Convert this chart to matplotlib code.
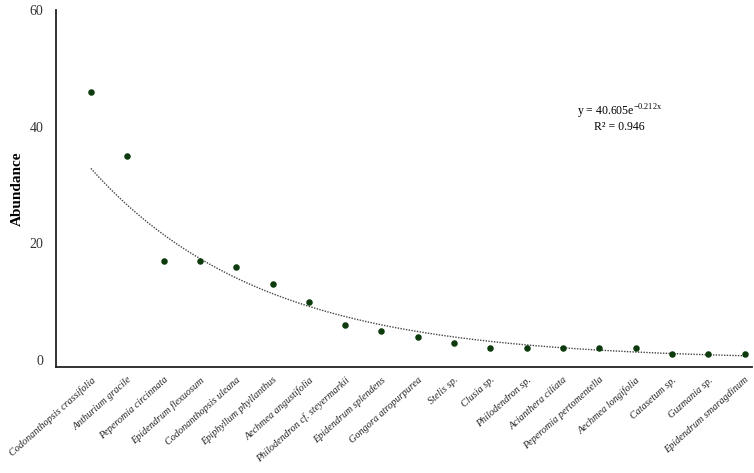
import numpy as np
import matplotlib
matplotlib.use("Agg")
import matplotlib.pyplot as plt

species = ["Codonanthopsis crassifolia", "Anthurium gracile", "Peperomia circinnata",
           "Epidendrum flexuosum", "Codonanthopsis uleana", "Epiphyllum phyllanthus",
           "Aechmea angustifolia", "Philodendron cf. steyermarkii", "Epidendrum splendens",
           "Gongora atropurpurea", "Stelis sp.", "Clusia sp.", "Philodendron sp.",
           "Acianthera ciliata", "Peperomia pertomentella", "Aechmea longifolia",
           "Catasetum sp.", "Guzmania sp.", "Epidendrum smaragdinum"]
abundance = [46, 35, 17, 17, 16, 13, 10, 6, 5, 4, 3, 2, 2, 2, 2, 2, 1, 1, 1]
fit_a = 40.605
fit_b = -0.212
r2 = 0.946
yticks = [0, 20, 40, 60]

plt.rcParams['font.family'] = ['Liberation Serif', 'DejaVu Serif']

fig = plt.figure(figsize=(7.54, 4.73), dpi=100)
ax = fig.add_axes([56/754, 1-367/473, (752-56)/754, (367-10)/473])

x = np.arange(1, len(species)+1)
xf = np.linspace(1, len(species), 300)
ax.plot(xf, fit_a*np.exp(fit_b*xf), linestyle=(0, (1, 1)), color='#444444', linewidth=1.0, zorder=2)
ax.scatter(x, abundance, s=22, color='#0d3b0d', zorder=3, linewidths=0)

ax.set_xlim(0.04, 19.2)
ax.set_ylim(-1.2, 60)
ax.set_yticks(yticks)
ax.set_yticklabels([str(t) for t in yticks], fontsize=10, color='#333333')
ax.set_xticks(x)
ax.set_xticklabels(species, rotation=42, ha='right', rotation_mode='anchor',
                   fontsize=7.3, style='italic', color='#222222')
ax.tick_params(axis='both', length=0)
ax.tick_params(axis='x', pad=6)
ax.tick_params(axis='y', pad=9)
for s in ['top', 'right']:
    ax.spines[s].set_visible(False)
for s in ['left', 'bottom']:
    ax.spines[s].set_linewidth(1.3)
    ax.spines[s].set_color('#222222')

ax.set_ylabel('Abundance', fontsize=11, fontweight='bold', labelpad=4)

ax.text(0.81, (367-112)/357, r'y = 40.605e$^{\mathregular{-0.212x}}$', transform=ax.transAxes,
        ha='center', va='center', fontsize=8.5)
ax.text(0.81, (367-127)/357, 'R² = 0.946', transform=ax.transAxes, ha='center', va='center', fontsize=8.5)

fig.savefig('out.png', dpi=100)
